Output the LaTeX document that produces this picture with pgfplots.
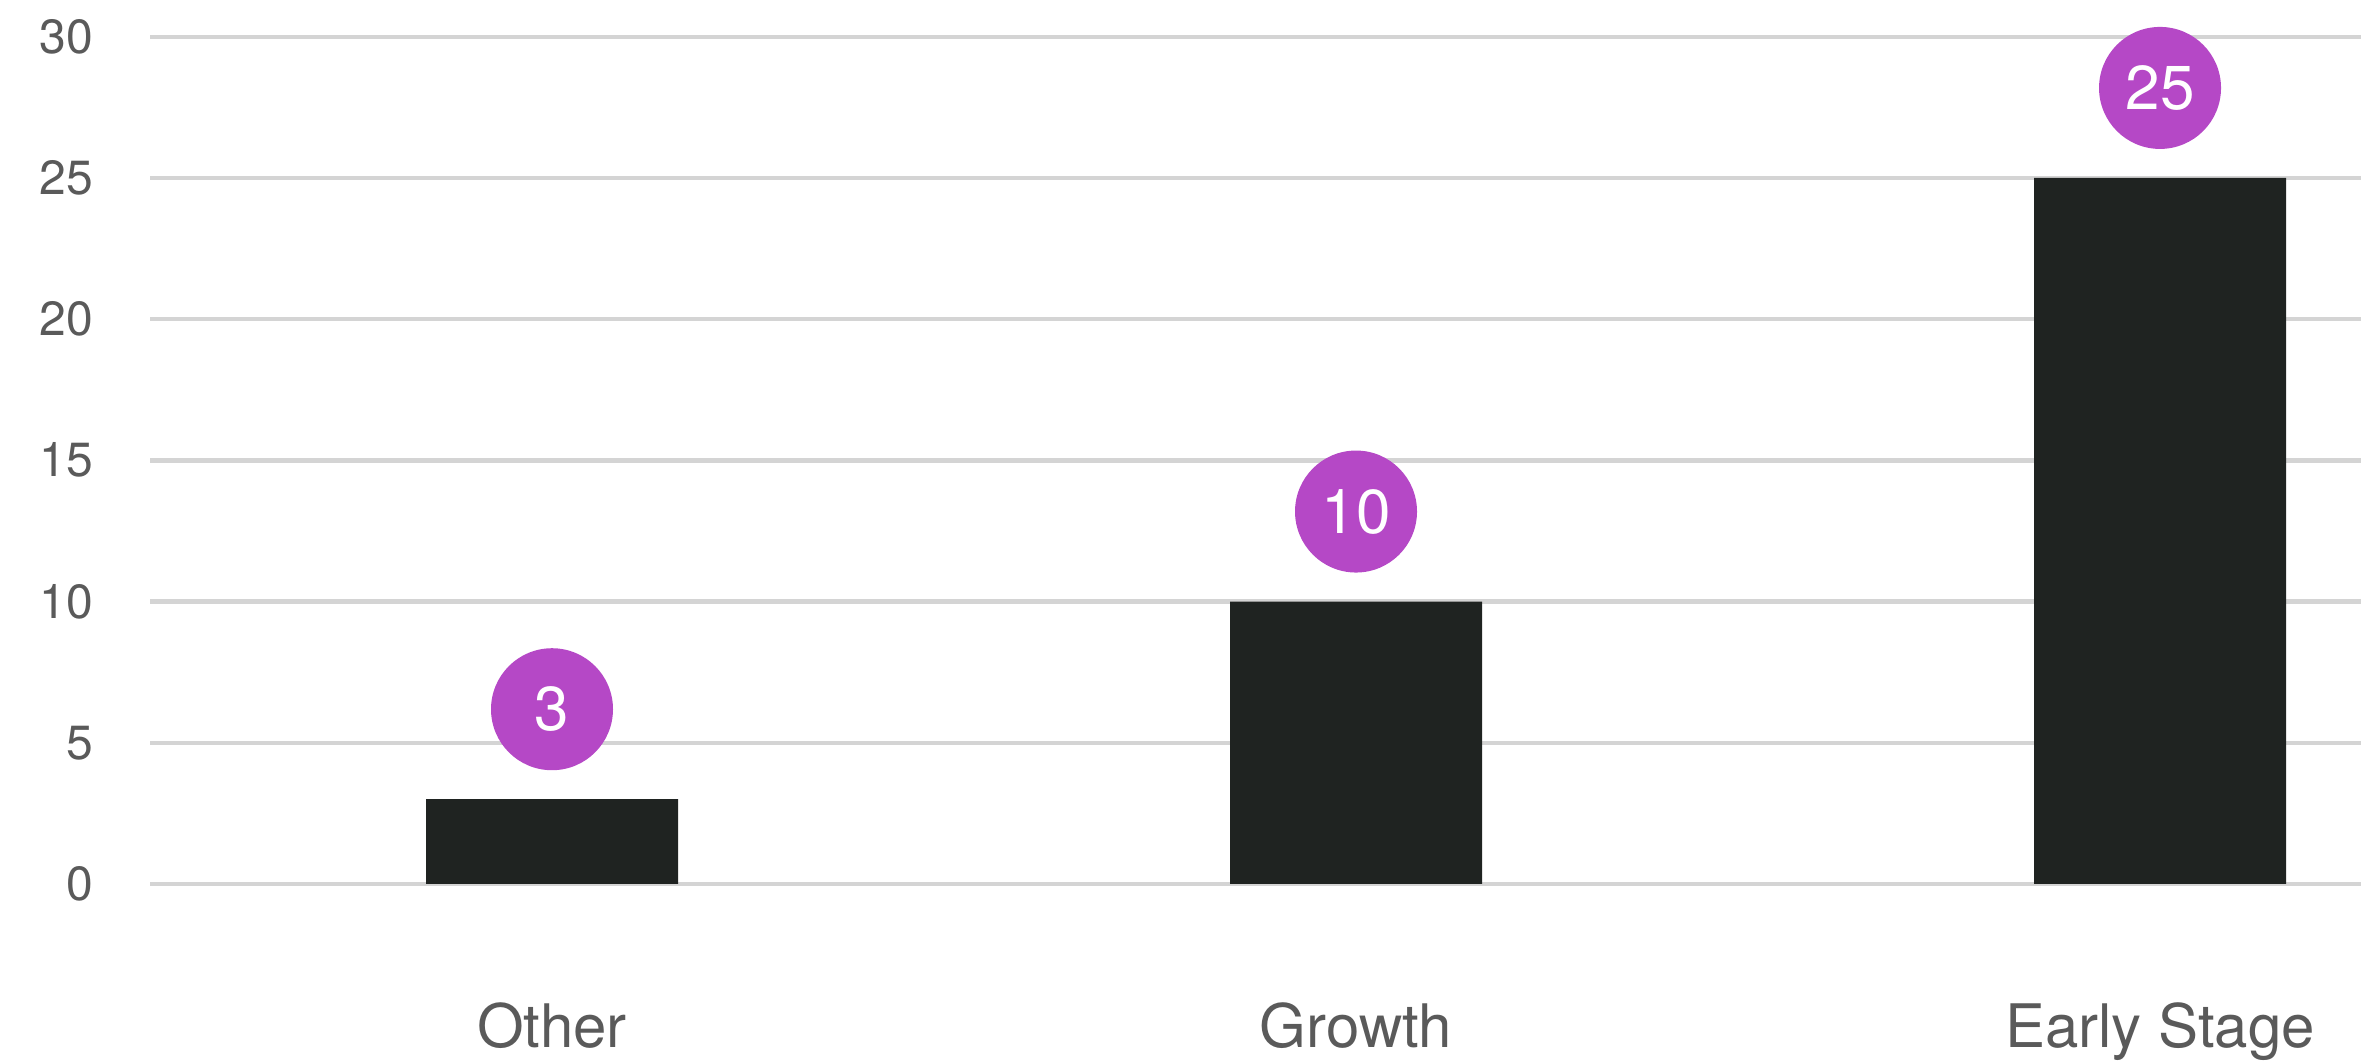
\documentclass[border=0pt]{standalone}
\usepackage{pgfplots}
\pgfplotsset{compat=1.18}
\usepackage{fontspec}
\setmainfont{TeX Gyre Heros}
\definecolor{txtgray}{HTML}{5A5A5A}
\definecolor{gridgray}{HTML}{D4D4D4}
\definecolor{barblack}{HTML}{1F2321}
\definecolor{bubble}{HTML}{B548C6}
\begin{document}
\begin{tikzpicture}
\begin{axis}[
  at={(0,0)}, anchor=south west,
  scale only axis,
  width=552.75pt, height=211.8pt,
  xmin=-0.5, xmax=2.25,
  ymin=0, ymax=30,
  ytick={0,5,10,15,20,25,30},
  xtick={0,1,2},
  xticklabels={Other,Growth,Early Stage},
  axis line style={draw=none},
  major tick length=0pt,
  ymajorgrids=true,
  grid style={gridgray, line width=1.1pt},
  /pgf/number format/assume math mode=true,
  yticklabel style={font=\fontsize{12}{14}\selectfont, text=txtgray, anchor=east, inner sep=0pt, xshift=-14pt},
  xticklabel style={font=\fontsize{15}{18}\selectfont, text=txtgray, anchor=base, inner sep=0pt, yshift=-41pt},
  ybar, bar width=63pt,
  nodes near coords,
  every node near coord/.append style={anchor=center, yshift=22.5pt, circle, fill=bubble, minimum size=30.5pt, inner sep=0pt, text=white, font=\fontsize{15.5}{18}\selectfont},
  clip=false,
]
\addplot[fill=barblack, draw=none] coordinates {(0,3) (1,10) (2,25)};
\end{axis}
\pgfresetboundingbox
\path[use as bounding box] (-37.5pt,-45pt) rectangle (552.75pt,220.98pt);
\end{tikzpicture}
\end{document}
